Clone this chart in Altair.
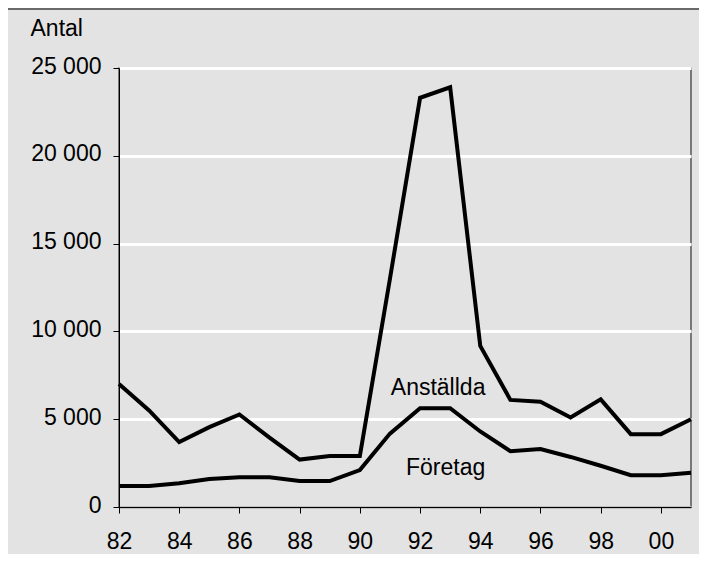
import altair as alt
import pandas as pd

years = list(range(1982, 2002))
anstallda = [7000, 5500, 3700, 4550, 5270, 3950, 2700, 2900, 2900, 13000,
             23300, 23900, 9170, 6100, 6000, 5100, 6130, 4150, 4150, 5000]
foretag = [1200, 1200, 1350, 1600, 1700, 1700, 1480, 1480, 2100, 4180,
           5630, 5630, 4300, 3180, 3300, 2850, 2350, 1810, 1810, 1950]

label_text = ["Anställda", "Företag"]
label_year = [1992.6, 1992.85]
label_value = [6400, 1820]

df = pd.DataFrame({
    "year": years * 2,
    "value": anstallda + foretag,
    "series": ["Anställda"] * len(years) + ["Företag"] * len(years),
})
labels = pd.DataFrame({"text": label_text, "year": label_year, "value": label_value})

FONT = "Liberation Sans"
BG = "#e3e3e3"

x = alt.X("year:Q",
          scale=alt.Scale(domain=[1982, 2001], nice=False, zero=False),
          axis=alt.Axis(values=years, title=None, grid=False,
                        labelExpr="datum.value % 2 == 0 ? substring(toString(datum.value), 2, 4) : ''",
                        labelFlush=False, labelOverlap=False,
                        tickSize=6, tickColor="black", tickWidth=1,
                        domainColor="black", domainWidth=1.5,
                        labelBaseline="alphabetic", labelPadding=35,
                        labelFont=FONT, labelFontSize=23, labelColor="black"))
y = alt.Y("value:Q",
          scale=alt.Scale(domain=[0, 25000], nice=False),
          axis=alt.Axis(values=[0, 5000, 10000, 15000, 20000, 25000],
                        labelExpr="replace(format(datum.value, ','), ',', ' ')",
                        grid=True, gridColor="white", gridWidth=3,
                        tickSize=6, tickColor="black", tickWidth=1,
                        domainColor="black", domainWidth=1,
                        labelPadding=12, labelOffset=-2,
                        labelFont=FONT, labelFontSize=23, labelColor="black",
                        title="Antal", titleAngle=0, titleAlign="left",
                        titleBaseline="alphabetic", titleX=-89, titleY=-33,
                        titleFont=FONT, titleFontSize=23, titleFontWeight="normal",
                        titleColor="black"))

lines = alt.Chart(df).mark_line(color="black", strokeWidth=4, strokeJoin="miter").encode(
    x=x, y=y, detail="series:N")

text = alt.Chart(labels).mark_text(font=FONT, fontSize=23, color="black",
                                   align="center", baseline="alphabetic").encode(
    x="year:Q", y="value:Q", text="text:N")

topline = alt.Chart(pd.DataFrame({"a": [0]})).mark_rule(color="#6a6a6a", strokeWidth=2).encode(
    x=alt.value(-111), x2=alt.value(580), y=alt.value(-59))

chart = alt.layer(lines, text, topline).properties(
    width=572, height=439,
    autosize=alt.AutoSizeParams(type="none"),
    padding={"left": 111, "top": 60, "right": 8, "bottom": 47},
    background=BG,
).configure_view(fill=BG, stroke="#555555", strokeWidth=1.5)

chart.save("out.html", embed_options={"renderer": "svg", "actions": False})
